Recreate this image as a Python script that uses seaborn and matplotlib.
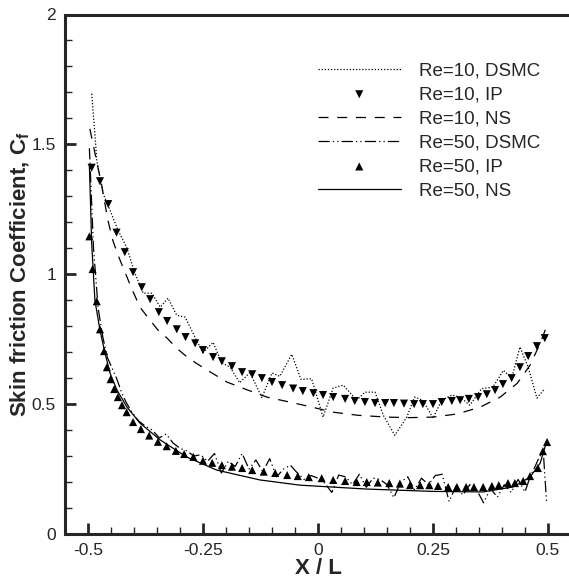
import matplotlib
matplotlib.use("Agg")
import matplotlib.pyplot as plt
import seaborn as sns
from matplotlib.ticker import MultipleLocator

# Re=10, DSMC
x_dsmc10 = [-0.492, -0.485, -0.481, -0.474, -0.467, -0.452, -0.435, -0.416, -0.398, -0.380,
            -0.361, -0.343, -0.326, -0.307, -0.289, -0.263, -0.250, -0.228, -0.210, -0.191,
            -0.170, -0.148, -0.122, -0.100, -0.083, -0.057, -0.037, -0.014, 0.011, 0.033,
            0.055, 0.084, 0.102, 0.124, 0.142, 0.167, 0.193, 0.210, 0.228, 0.250,
            0.269, 0.291, 0.309, 0.330, 0.356, 0.380, 0.403, 0.421, 0.439, 0.457, 0.476, 0.493]
y_dsmc10 = [1.695, 1.54, 1.44, 1.373, 1.31, 1.246, 1.17, 1.104, 1.004, 0.927,
            0.927, 0.873, 0.908, 0.842, 0.835, 0.742, 0.698, 0.738, 0.660, 0.642,
            0.582, 0.622, 0.525, 0.62, 0.607, 0.692, 0.595, 0.598, 0.45, 0.562,
            0.573, 0.515, 0.546, 0.546, 0.457, 0.38, 0.45, 0.527, 0.515, 0.446,
            0.515, 0.535, 0.527, 0.496, 0.56, 0.565, 0.63, 0.60, 0.72, 0.642, 0.523, 0.56]

# Re=10, IP
x_ip10 = [-0.492, -0.474, -0.456, -0.438, -0.420, -0.402, -0.383, -0.365, -0.346, -0.328,
          -0.307, -0.288, -0.267, -0.250, -0.228, -0.209, -0.187, -0.165, -0.143, -0.122,
          -0.100, -0.078, -0.054, -0.033, -0.010, 0.011, 0.033, 0.059, 0.080, 0.102,
          0.124, 0.146, 0.165, 0.187, 0.209, 0.228, 0.250, 0.269, 0.291, 0.309,
          0.328, 0.348, 0.367, 0.385, 0.402, 0.421, 0.439, 0.457, 0.476, 0.493]
y_ip10 = [1.41, 1.358, 1.27, 1.16, 1.085, 1.008, 0.95, 0.904, 0.854, 0.82,
          0.788, 0.758, 0.734, 0.708, 0.681, 0.665, 0.646, 0.623, 0.615, 0.600,
          0.585, 0.573, 0.560, 0.550, 0.542, 0.535, 0.527, 0.520, 0.512, 0.508,
          0.504, 0.504, 0.504, 0.502, 0.500, 0.500, 0.500, 0.508, 0.512, 0.515,
          0.520, 0.527, 0.538, 0.554, 0.577, 0.600, 0.642, 0.685, 0.723, 0.754]

# Re=10, NS
x_ns10 = [-0.496, -0.483, -0.471, -0.457, -0.446, -0.435, -0.424, -0.405, -0.387, -0.365,
          -0.348, -0.328, -0.307, -0.289, -0.267, -0.241, -0.198, -0.154, -0.111, -0.054,
          -0.017, 0.033, 0.087, 0.150, 0.200, 0.250, 0.302, 0.352, 0.396, 0.433,
          0.461, 0.483, 0.495]
y_ns10 = [1.56, 1.45, 1.35, 1.21, 1.13, 1.075, 1.027, 0.945, 0.873, 0.823,
          0.785, 0.754, 0.715, 0.688, 0.66, 0.631, 0.585, 0.555, 0.527, 0.505,
          0.49, 0.469, 0.457, 0.45, 0.448, 0.45, 0.462, 0.488, 0.527, 0.58,
          0.65, 0.734, 0.79]

# Re=50, DSMC
x_dsmc50 = [-0.497, -0.488, -0.478, -0.468, -0.458, -0.448, -0.438, -0.428, -0.418, -0.405,
            -0.390, -0.375, -0.360, -0.345, -0.330, -0.315, -0.300, -0.285, -0.270, -0.255,
            -0.240, -0.225, -0.210, -0.195, -0.180, -0.165, -0.150, -0.135, -0.120, -0.105,
            -0.090, -0.075, -0.060, -0.045, -0.030, -0.015, 0.000, 0.015, 0.030, 0.045,
            0.060, 0.075, 0.090, 0.105, 0.120, 0.135, 0.150, 0.165, 0.180, 0.195,
            0.210, 0.225, 0.240, 0.255, 0.270, 0.285, 0.300, 0.315, 0.330, 0.345,
            0.360, 0.375, 0.390, 0.405, 0.420, 0.435, 0.450, 0.462, 0.472, 0.482, 0.490, 0.497]
y_dsmc50 = [1.485, 1.10, 0.87, 0.76, 0.68, 0.64, 0.60, 0.55, 0.51, 0.47,
            0.435, 0.415, 0.40, 0.37, 0.385, 0.35, 0.33, 0.32, 0.30, 0.305,
            0.28, 0.31, 0.235, 0.28, 0.26, 0.31, 0.25, 0.285, 0.24, 0.29,
            0.22, 0.25, 0.265, 0.235, 0.21, 0.225, 0.215, 0.195, 0.16, 0.227,
            0.22, 0.19, 0.23, 0.18, 0.215, 0.21, 0.19, 0.14, 0.20, 0.22,
            0.17, 0.215, 0.19, 0.225, 0.23, 0.125, 0.185, 0.15, 0.19, 0.17,
            0.12, 0.175, 0.142, 0.19, 0.16, 0.21, 0.162, 0.225, 0.26, 0.30, 0.31, 0.12]

# Re=50, IP
x_ip50 = [-0.497, -0.490, -0.481, -0.474, -0.465, -0.459, -0.451, -0.443, -0.435, -0.426,
          -0.416, -0.402, -0.385, -0.367, -0.348, -0.329, -0.309, -0.291, -0.271, -0.250,
          -0.230, -0.209, -0.187, -0.165, -0.143, -0.118, -0.093, -0.067, -0.044, -0.020,
          0.008, 0.033, 0.059, 0.084, 0.106, 0.130, 0.155, 0.178, 0.200, 0.222,
          0.242, 0.261, 0.283, 0.302, 0.322, 0.339, 0.359, 0.378, 0.393, 0.413,
          0.428, 0.446, 0.461, 0.478, 0.489, 0.498]
y_ip50 = [1.146, 1.02, 0.896, 0.788, 0.704, 0.642, 0.596, 0.558, 0.527, 0.496,
          0.469, 0.431, 0.404, 0.379, 0.355, 0.338, 0.32, 0.308, 0.297, 0.282,
          0.274, 0.265, 0.259, 0.254, 0.246, 0.240, 0.235, 0.227, 0.223, 0.219,
          0.215, 0.208, 0.204, 0.200, 0.200, 0.198, 0.196, 0.194, 0.188, 0.188,
          0.188, 0.185, 0.181, 0.181, 0.181, 0.181, 0.181, 0.185, 0.188, 0.196,
          0.196, 0.204, 0.223, 0.254, 0.319, 0.354]

# Re=50, NS
x_ns50 = [-0.497, -0.492, -0.485, -0.474, -0.463, -0.452, -0.437, -0.415, -0.387, -0.343,
          -0.285, -0.220, -0.126, -0.039, 0.106, 0.250, 0.359, 0.424, 0.461, 0.483, 0.498]
y_ns50 = [1.42, 1.12, 0.90, 0.785, 0.696, 0.619, 0.554, 0.488, 0.427, 0.362,
          0.296, 0.246, 0.208, 0.188, 0.173, 0.164, 0.162, 0.181, 0.219, 0.273, 0.362]

labels = ["Re=10, DSMC", "Re=10, IP", "Re=10, NS", "Re=50, DSMC", "Re=50, IP", "Re=50, NS"]
x_ticks = [-0.5, -0.25, 0, 0.25, 0.5]
x_ticklabels = ["-0.5", "-0.25", "0", "0.25", "0.5"]
y_ticks = [0, 0.5, 1, 1.5, 2]
y_ticklabels = ["0", "0.5", "1", "1.5", "2"]

sns.set_style("ticks")
plt.rcParams["font.family"] = ["Liberation Sans", "DejaVu Sans"]
plt.rcParams["axes.unicode_minus"] = False
plt.rcParams["mathtext.default"] = "regular"

fig = plt.figure(figsize=(5.69, 5.81), dpi=100)
ax = fig.add_axes([65 / 569, 47 / 581, 506 / 569, 519.5 / 581])

lw = 0.9
sns.lineplot(x=x_dsmc10, y=y_dsmc10, sort=False, estimator=None, color="k", lw=lw,
             linestyle=(0, (1, 1.5)), label=labels[0], ax=ax)
sns.scatterplot(x=x_ip10, y=y_ip10, marker="v", s=34, color="k", edgecolor="none",
                label=labels[1], ax=ax)
sns.lineplot(x=x_ns10, y=y_ns10, sort=False, estimator=None, color="k", lw=lw,
             linestyle=(0, (8, 7)), label=labels[2], ax=ax)
sns.lineplot(x=x_dsmc50, y=y_dsmc50, sort=False, estimator=None, color="k", lw=lw,
             linestyle=(0, (9, 2.5, 1, 2.5, 1, 2.5)), label=labels[3], ax=ax)
sns.scatterplot(x=x_ip50, y=y_ip50, marker="^", s=34, color="k", edgecolor="none",
                label=labels[4], ax=ax)
sns.lineplot(x=x_ns50, y=y_ns50, sort=False, estimator=None, color="k", lw=lw,
             linestyle="-", label=labels[5], ax=ax)

ax.set_xlim(-0.55, 0.55)
ax.set_ylim(0, 2)
ax.set_xticks(x_ticks)
ax.set_xticklabels(x_ticklabels)
ax.set_yticks(y_ticks)
ax.set_yticklabels(y_ticklabels)
ax.xaxis.set_minor_locator(MultipleLocator(0.05))
ax.yaxis.set_minor_locator(MultipleLocator(0.1))
ax.tick_params(which="major", direction="in", length=8, width=2, labelsize=12.6, pad=6.5,
               top=False, right=False)
ax.tick_params(which="minor", direction="in", length=5, width=1, top=False, right=False)
for sp in ax.spines.values():
    sp.set_linewidth(2.2)
ax.spines["right"].set_visible(False)

ax.set_xlabel("X / L", fontsize=16, fontweight="bold", labelpad=0)
ax.set_ylabel("Skin friction Coefficient, C$_f$", fontsize=16, fontweight="bold", labelpad=0)

leg = ax.legend(loc="upper left", bbox_to_anchor=(318 / 569, 1 - 62 / 581),
                bbox_transform=fig.transFigure, frameon=False, fontsize=13.5,
                handlelength=4.4, handletextpad=1.0, labelspacing=0.37,
                borderpad=0, borderaxespad=0, markerscale=1.0)

fig.savefig("out.png", dpi=100)
